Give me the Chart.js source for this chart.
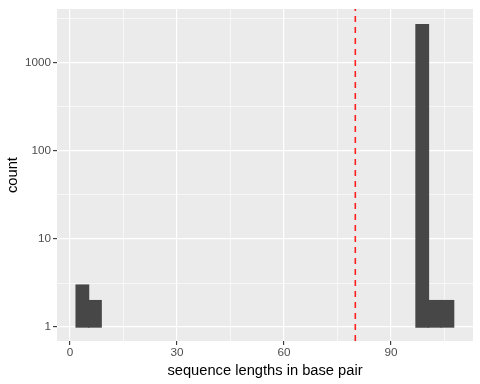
<!DOCTYPE html>
<html>
<head>
<meta charset="utf-8">
<script src="https://cdn.jsdelivr.net/npm/chart.js@4/dist/chart.umd.min.js"></script>
<style>
  html, body { margin: 0; padding: 0; background: #ffffff; }
  #wrap { width: 480px; height: 384px; }
</style>
</head>
<body>
<div id="wrap"><canvas id="histChart" width="480" height="384"></canvas></div>
<script>
// histogram bins (left edge, width) and counts
const binLeft = [1.70, 5.23, 97.00, 100.53, 104.06];
const binWidth = 3.53;
const counts = [3, 2, 2700, 2, 2];

// cutoff shown as red dashed line
const cutoff = 80;

// axis ticks
const xMajorTicks = [0, 30, 60, 90];
const xMinorTicks = [15, 45, 75, 105];
const yMajorTicks = [1, 10, 100, 1000];
const yMinorTicks = [3.162, 31.62, 316.2, 3162];

const xMin = -3.645, xMax = 113.0;
const yMin = 0.695, yMax = 4064;

const tickFont = { family: 'Liberation Sans, Arial, sans-serif', size: 11.7 };
const titleFont = { family: 'Liberation Sans, Arial, sans-serif', size: 14.7 };

// grey panel behind the plot
const panelBackground = {
    id: 'panelBackground',
    beforeDraw(chart) {
        const { ctx, chartArea } = chart;
        ctx.save();
        ctx.fillStyle = '#EBEBEB';
        ctx.fillRect(chartArea.left, chartArea.top, chartArea.width, chartArea.height);
        ctx.restore();
    }
};

function isMajor(list, c) {
    if (!c || !c.tick) return false;
    const v = c.tick.value;
    return list.some(m => Math.abs(m - v) < 1e-6);
}

let ctx = document.getElementById('histChart').getContext('2d');
let histChart = new Chart(ctx, {
    type: 'bar',
    data: {
        datasets: [
            {
                type: 'bar',
                data: binLeft.map((b, i) => ({ x: b + binWidth / 2, y: [1, counts[i]] })),
                backgroundColor: '#474747',
                borderWidth: 0,
                inflateAmount: 0.6,
                barPercentage: 1,
                categoryPercentage: 1,
                order: 2
            },
            {
                type: 'line',
                data: [{ x: cutoff, y: yMin }, { x: cutoff, y: yMax }],
                borderColor: '#FF2020',
                borderWidth: 1.6,
                borderDash: [6, 5],
                pointRadius: 0,
                fill: false,
                order: 1
            }
        ]
    },
    plugins: [panelBackground],
    options: {
        responsive: false,
        animation: false,
        events: [],
        layout: { padding: { top: 7, right: 7, left: 0, bottom: 4 } },
        plugins: {
            legend: { display: false },
            tooltip: { enabled: false }
        },
        scales: {
            x: {
                type: 'linear',
                min: xMin,
                max: xMax,
                offset: false,
                border: { display: false },
                afterBuildTicks(scale) {
                    scale.ticks = xMajorTicks.concat(xMinorTicks).sort((a, b) => a - b).map(v => ({ value: v }));
                },
                afterFit(scale) { scale.height = 39; },
                grid: {
                    offset: false,
                    color: '#FFFFFF',
                    lineWidth: c => isMajor(xMajorTicks, c) ? 1.2 : 0.6,
                    drawTicks: true,
                    tickLength: 4,
                    tickColor: c => isMajor(xMajorTicks, c) ? '#333333' : 'rgba(0,0,0,0)',
                    tickWidth: 1.1
                },
                ticks: {
                    autoSkip: false,
                    maxRotation: 0,
                    padding: 1,
                    color: '#4D4D4D',
                    font: tickFont,
                    callback: v => xMajorTicks.includes(v) ? String(v) : ''
                },
                title: {
                    display: true,
                    text: 'sequence lengths in base pair',
                    color: '#000000',
                    font: titleFont,
                    padding: { top: 2, bottom: 0 }
                }
            },
            y: {
                type: 'logarithmic',
                min: yMin,
                max: yMax,
                border: { display: false },
                afterBuildTicks(scale) {
                    scale.ticks = yMajorTicks.concat(yMinorTicks).sort((a, b) => a - b).map(v => ({ value: v }));
                },
                afterFit(scale) { scale.width = 57; },
                grid: {
                    color: '#FFFFFF',
                    lineWidth: c => isMajor(yMajorTicks, c) ? 1.2 : 0.6,
                    drawTicks: true,
                    tickLength: 4,
                    tickColor: c => isMajor(yMajorTicks, c) ? '#333333' : 'rgba(0,0,0,0)',
                    tickWidth: 1.1
                },
                ticks: {
                    autoSkip: false,
                    padding: 2,
                    color: '#4D4D4D',
                    font: tickFont,
                    callback: v => yMajorTicks.includes(v) ? String(v) : ''
                },
                title: {
                    display: true,
                    text: 'count',
                    color: '#000000',
                    font: titleFont,
                    padding: { top: 4, bottom: 0 }
                }
            }
        }
    }
});
</script>
</body>
</html>
